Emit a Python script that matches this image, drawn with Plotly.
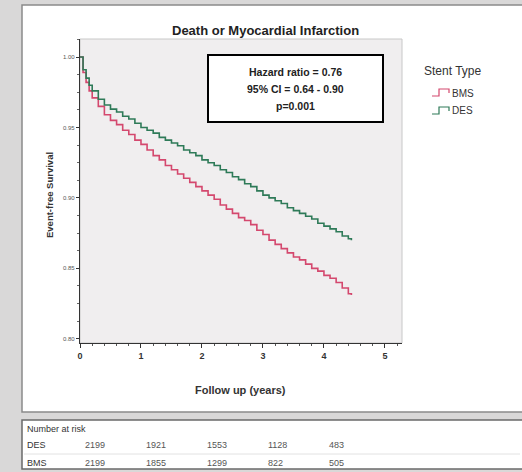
import plotly.graph_objects as go

# ---- data ----
des_t = [0, 0.05, 0.1, 0.15, 0.2, 0.3, 0.4, 0.5, 0.6, 0.7, 0.8, 0.9, 1.0, 1.1, 1.2, 1.3, 1.4,
         1.5, 1.6, 1.7, 1.8, 1.9, 2.0, 2.1, 2.2, 2.3, 2.4, 2.5, 2.6, 2.7, 2.8, 2.9, 3.0, 3.1,
         3.2, 3.3, 3.4, 3.5, 3.6, 3.7, 3.8, 3.9, 4.0, 4.1, 4.2, 4.3, 4.4, 4.45]
des_s = [1.000, 0.991, 0.985, 0.980, 0.976, 0.970, 0.966, 0.963, 0.961, 0.958, 0.956, 0.953,
         0.950, 0.948, 0.946, 0.943, 0.941, 0.939, 0.937, 0.934, 0.932, 0.930, 0.927, 0.925,
         0.923, 0.920, 0.918, 0.915, 0.913, 0.910, 0.908, 0.905, 0.902, 0.900, 0.898, 0.896,
         0.893, 0.891, 0.889, 0.887, 0.885, 0.882, 0.880, 0.878, 0.876, 0.873, 0.871, 0.870]
bms_t = [0, 0.05, 0.1, 0.15, 0.2, 0.3, 0.4, 0.5, 0.6, 0.7, 0.8, 0.9, 1.0, 1.1, 1.2, 1.3, 1.4,
         1.5, 1.6, 1.7, 1.8, 1.9, 2.0, 2.1, 2.2, 2.3, 2.4, 2.5, 2.6, 2.7, 2.8, 2.9, 3.0, 3.1,
         3.2, 3.3, 3.4, 3.5, 3.6, 3.7, 3.8, 3.9, 4.0, 4.1, 4.2, 4.3, 4.4, 4.45]
bms_s = [1.000, 0.989, 0.982, 0.976, 0.971, 0.965, 0.959, 0.955, 0.952, 0.948, 0.945, 0.941,
         0.938, 0.934, 0.930, 0.927, 0.923, 0.920, 0.917, 0.914, 0.911, 0.908, 0.905, 0.902,
         0.899, 0.895, 0.892, 0.889, 0.886, 0.884, 0.881, 0.877, 0.874, 0.870, 0.867, 0.864,
         0.861, 0.858, 0.856, 0.853, 0.850, 0.848, 0.845, 0.843, 0.840, 0.836, 0.832, 0.831]
risk_times = [0, 1, 2, 3, 4]
risk_des = [2199, 1921, 1553, 1128, 483]
risk_bms = [2199, 1855, 1299, 822, 505]
x_ticks = [0, 1, 2, 3, 4, 5]
y_ticks = [0.80, 0.85, 0.90, 0.95, 1.00]

GREEN = "#2e7a58"
PINK = "#d4486e"
FONT = "Liberation Sans, Arial, sans-serif"

# pixel helpers (plot area: x 80..402, y 39..343)
L, R, T, B = 80, 402, 39, 343
def px(x):
    return (x - L) / (R - L)
def py(y):
    return (B - y) / (B - T)

fig = go.Figure()
fig.add_trace(go.Scatter(x=bms_t, y=bms_s, mode="lines", line=dict(color=PINK, width=1.6, shape="hv"),
                         name="BMS", showlegend=False))
fig.add_trace(go.Scatter(x=des_t, y=des_s, mode="lines", line=dict(color=GREEN, width=1.6, shape="hv"),
                         name="DES", showlegend=False))

shapes = [
    dict(type="rect", xref="paper", yref="paper", x0=px(22), x1=px(525), y0=py(5), y1=py(412),
         fillcolor="white", line=dict(color="#8a8a8a", width=1.5), layer="below"),
    dict(type="rect", xref="paper", yref="paper", x0=px(22), x1=px(525), y0=py(420), y1=py(469),
         fillcolor="white", line=dict(color="#6a6a6a", width=1.5), layer="below"),
    dict(type="line", xref="paper", yref="paper", x0=px(24), x1=px(520), y0=py(454), y1=py(454),
         line=dict(color="#e2e2e2", width=1), layer="below"),
    dict(type="rect", xref="paper", yref="paper", x0=0, x1=1, y0=0, y1=1,
         fillcolor="#f0eeef", line=dict(color="#c8c8c8", width=1), layer="below"),
    dict(type="rect", xref="paper", yref="paper", x0=px(208), x1=px(383), y0=py(122), y1=py(55),
         fillcolor="white", line=dict(color="black", width=2), layer="above"),
    dict(type="path", xref="paper", yref="paper",
         path=f"M {px(432)},{py(96)} L {px(439)},{py(96)} L {px(439)},{py(89)} L {px(449)},{py(89)} L {px(449)},{py(93)}",
         line=dict(color=PINK, width=1.2)),
    dict(type="path", xref="paper", yref="paper",
         path=f"M {px(432)},{py(114)} L {px(439)},{py(114)} L {px(439)},{py(107)} L {px(449)},{py(107)} L {px(449)},{py(111)}",
         line=dict(color=GREEN, width=1.2)),
]

ann = []
def A(text, x, y, size=10, bold=False, color="#222", xanchor="center", **kw):
    ann.append(dict(text=f"<b>{text}</b>" if bold else text, xref="paper", yref="paper",
                    x=px(x), y=py(y), showarrow=False, xanchor=xanchor, yanchor="middle",
                    font=dict(family=FONT, size=size, color=color), **kw))

A("Death or Myocardial Infarction", 265, 30, size=13, bold=True)
A("Hazard ratio = 0.76", 295, 72, size=10.5, bold=True)
A("95% CI = 0.64 - 0.90", 295, 89, size=10.5, bold=True)
A("p=0.001", 295, 106, size=10.5, bold=True)
A("Stent Type", 453, 71, size=12, color="#333")
A("BMS", 450, 93, size=10, color="#333", xanchor="left")
A("DES", 450, 111, size=10, color="#333", xanchor="left")
A("Event-free Survival", 50, 195, size=9.5, bold=True, color="#333", textangle=-90)
A("Follow up (years)", 240, 390, size=11, bold=True, color="#333")
A("Number at risk", 25, 429, size=9, color="#333", xanchor="left")
A("DES", 25, 445, size=9, color="#333", xanchor="left")
A("BMS", 25, 463, size=9, color="#333", xanchor="left")
for t, d, b in zip(risk_times, risk_des, risk_bms):
    for val, yy in ((d, 445), (b, 463)):
        ann.append(dict(text=str(val), xref="x", yref="paper", x=t, y=py(yy), xshift=3,
                        showarrow=False, xanchor="left", yanchor="middle",
                        font=dict(family=FONT, size=9, color="#555")))

fig.update_layout(
    width=522, height=472,
    margin=dict(l=L, r=522 - R, t=T, b=472 - B, pad=0),
    paper_bgcolor="#d9d8d8",
    plot_bgcolor="rgba(0,0,0,0)",
    shapes=shapes, annotations=ann, showlegend=False,
    font=dict(family=FONT),
    xaxis=dict(range=[0, 5.28], tickvals=x_ticks, ticktext=[f"<b>{v}</b>" for v in x_ticks],
               ticks="outside", ticklen=4, tickcolor="#333", showgrid=False, zeroline=False,
               showline=True, linecolor="#333", linewidth=1.2,
               tickfont=dict(size=9, color="#333"),
               minor=dict(dtick=0.2, ticks="outside", ticklen=2, tickcolor="#555")),
    yaxis=dict(range=[0.797, 1.0128], tickvals=y_ticks, ticktext=[f"{v:.2f}" for v in y_ticks],
               ticks="outside", ticklen=3, tickcolor="#333", showgrid=False, zeroline=False,
               showline=True, linecolor="#333", linewidth=1.2,
               tickfont=dict(size=6, color="#555"),
               minor=dict(dtick=0.0125, ticks="outside", ticklen=2, tickcolor="#666")),
)

fig.write_html("out.html", config={"displayModeBar": False},
               post_script="document.body.style.margin='0';document.body.style.overflow='hidden';")
